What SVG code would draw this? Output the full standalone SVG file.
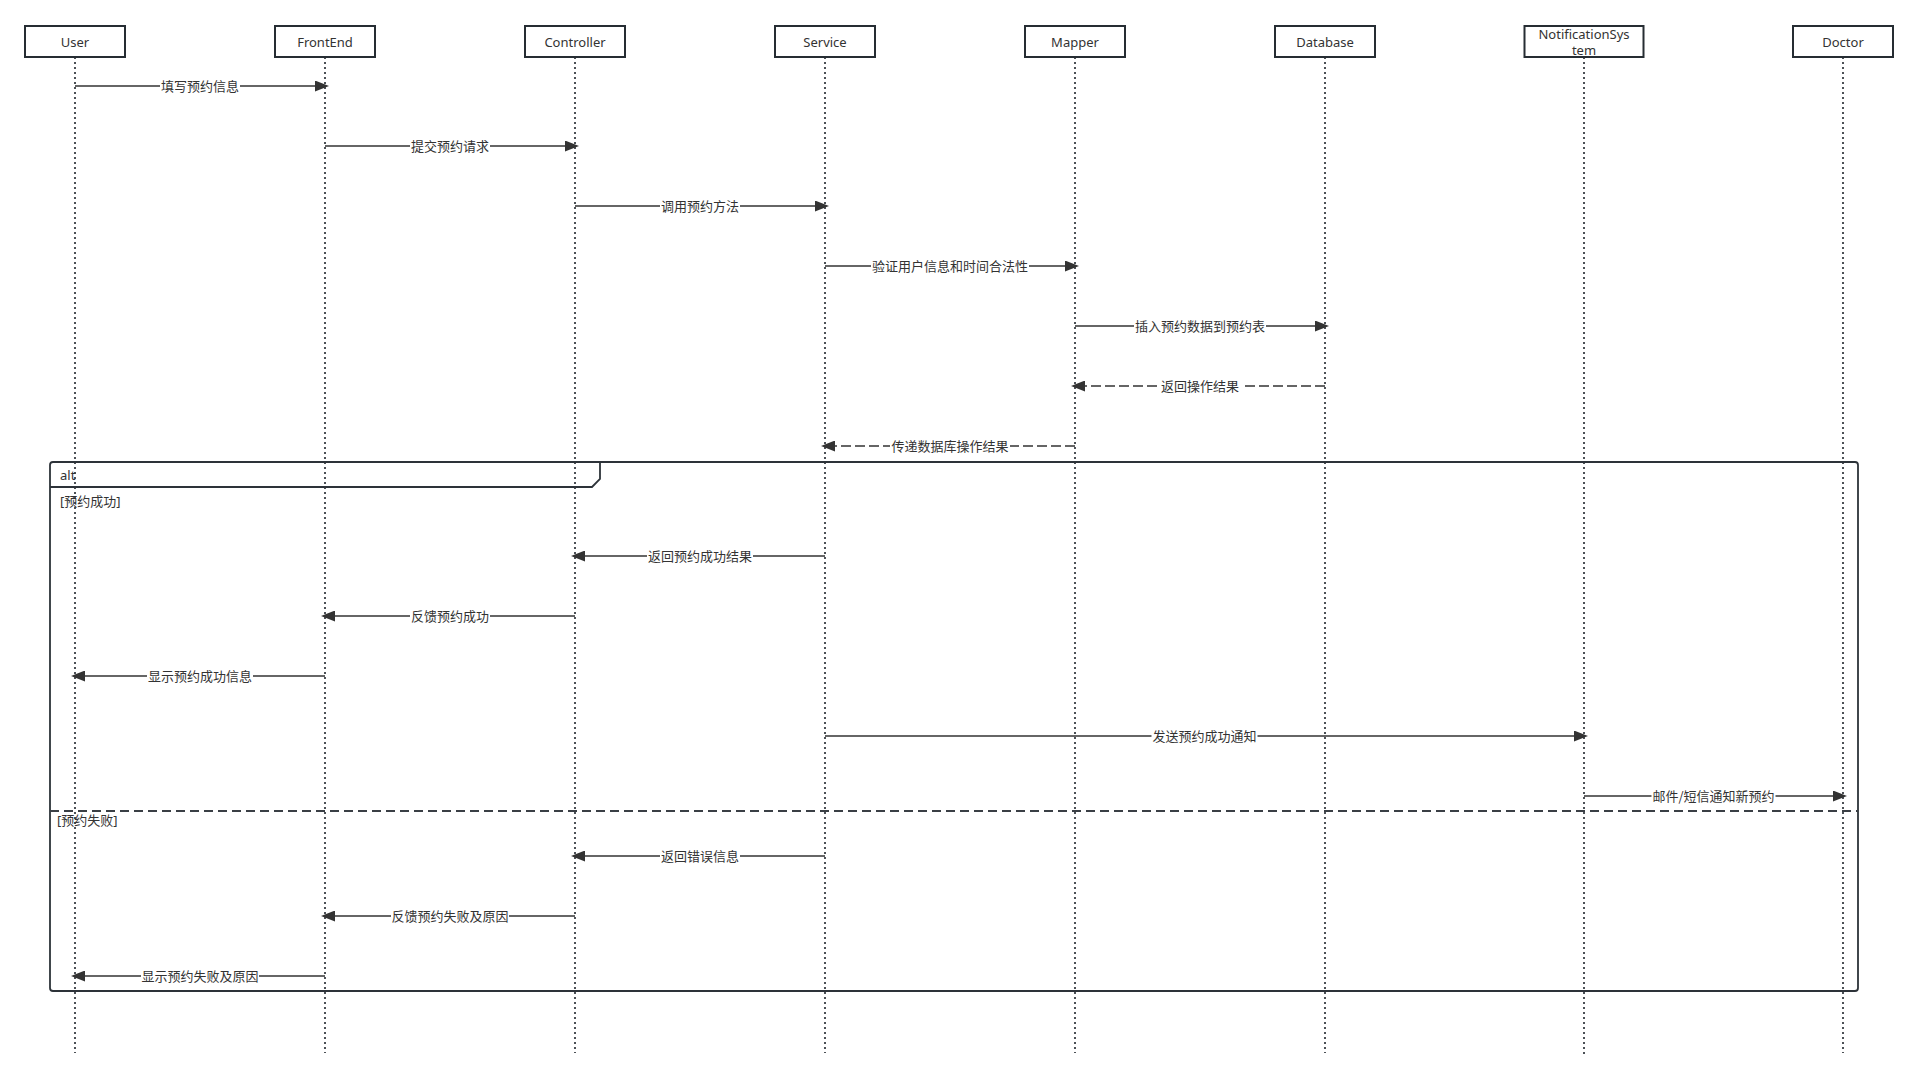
<svg xmlns="http://www.w3.org/2000/svg" width="1917" height="1081" viewBox="0 0 1917 1081">
<style>
.box{fill:#fff;stroke:#262d33;stroke-width:2}
.bt{font-family:"Noto Sans","Noto Sans CJK SC",sans-serif;font-size:13px;fill:#333;text-anchor:middle}
.life{stroke:#3a3f45;stroke-width:1.8;stroke-dasharray:2 3;fill:none}
.msg{stroke:#333;stroke-width:1.5;fill:none;marker-end:url(#arr)}
.ret{stroke:#333;stroke-width:1.5;fill:none;stroke-dasharray:10 4;marker-end:url(#arr)}
.lbg{fill:#fff}
.lt{font-family:"Noto Sans CJK SC","Noto Sans",sans-serif;font-size:13px;fill:#333;text-anchor:middle}
.ft{font-family:"Noto Sans","Noto Sans CJK SC",sans-serif;font-size:13px;fill:#333}
.frame{fill:none;stroke:#2d3339;stroke-width:1.8}
.div{stroke:#3a3f45;stroke-width:1.8;stroke-dasharray:9 5;fill:none}
</style>
<defs>
<marker id="arr" viewBox="0 0 14 11" refX="7" refY="5.5" markerWidth="14" markerHeight="11" markerUnits="userSpaceOnUse" orient="auto">
<path d="M0,0 L14,5.5 L0,11 z" fill="#333"/>
</marker>
</defs>
<rect width="1917" height="1081" fill="#fff"/>

<g id="lifelines">
<line class="life" x1="75" y1="57" x2="75" y2="1053"/>
<line class="life" x1="325" y1="57" x2="325" y2="1053"/>
<line class="life" x1="575" y1="57" x2="575" y2="1053"/>
<line class="life" x1="825" y1="57" x2="825" y2="1053"/>
<line class="life" x1="1075" y1="57" x2="1075" y2="1053"/>
<line class="life" x1="1325" y1="57" x2="1325" y2="1053"/>
<line class="life" x1="1584" y1="57" x2="1584" y2="1057"/>
<line class="life" x1="1843" y1="57" x2="1843" y2="1053"/>
</g>

<g id="user"><rect class="box" x="25" y="26" width="100" height="31"/><text class="bt" x="75" y="47">User</text></g>
<g id="frontend"><rect class="box" x="275" y="26" width="100" height="31"/><text class="bt" x="325" y="47">FrontEnd</text></g>
<g id="controller"><rect class="box" x="525" y="26" width="100" height="31"/><text class="bt" x="575" y="47">Controller</text></g>
<g id="service"><rect class="box" x="775" y="26" width="100" height="31"/><text class="bt" x="825" y="47">Service</text></g>
<g id="mapper"><rect class="box" x="1025" y="26" width="100" height="31"/><text class="bt" x="1075" y="47">Mapper</text></g>
<g id="database"><rect class="box" x="1275" y="26" width="100" height="31"/><text class="bt" x="1325" y="47">Database</text></g>
<g id="notificationsystem"><rect class="box" x="1524.5" y="26" width="119" height="31"/><text class="bt" x="1584" y="39">NotificationSys</text><text class="bt" x="1584" y="55">tem</text></g>
<g id="doctor"><rect class="box" x="1793" y="26" width="100" height="31"/><text class="bt" x="1843" y="47">Doctor</text></g>

<g id="alt-frame">
<rect class="frame" x="50" y="462" width="1808" height="529" rx="3"/>
<path class="frame" d="M50,487 L592,487 L600,479 L600,462"/>
<text class="ft" x="60" y="480">alt</text>
<text class="ft" x="60" y="506">[预约成功]</text>
<line class="div" x1="50" y1="811" x2="1858" y2="811"/>
<text class="ft" x="57" y="825">[预约失败]</text>
</g>

<g id="connectors">
<line class="msg" x1="75" y1="86" x2="322" y2="86"/>
<rect class="lbg" x="160" y="78" width="80" height="16"/><text class="lt" x="200" y="90.5">填写预约信息</text>

<line class="msg" x1="325" y1="146" x2="572" y2="146"/>
<rect class="lbg" x="410" y="138" width="80" height="16"/><text class="lt" x="450" y="150.5">提交预约请求</text>

<line class="msg" x1="575" y1="206" x2="822" y2="206"/>
<rect class="lbg" x="660" y="198" width="80" height="16"/><text class="lt" x="700" y="210.5">调用预约方法</text>

<line class="msg" x1="825" y1="266" x2="1072" y2="266"/>
<rect class="lbg" x="871" y="258" width="158" height="16"/><text class="lt" x="950" y="270.5">验证用户信息和时间合法性</text>

<line class="msg" x1="1075" y1="326" x2="1322" y2="326"/>
<rect class="lbg" x="1134" y="318" width="132" height="16"/><text class="lt" x="1200" y="330.5">插入预约数据到预约表</text>

<line class="ret" x1="1325" y1="386" x2="1078" y2="386"/>
<rect class="lbg" x="1157" y="378" width="86" height="16"/><text class="lt" x="1200" y="390.5">返回操作结果</text>

<line class="ret" x1="1075" y1="446" x2="828" y2="446"/>
<rect class="lbg" x="890" y="438" width="120" height="16"/><text class="lt" x="950" y="450.5">传递数据库操作结果</text>

<line class="msg" x1="825" y1="556" x2="578" y2="556"/>
<rect class="lbg" x="647" y="548" width="106" height="16"/><text class="lt" x="700" y="560.5">返回预约成功结果</text>

<line class="msg" x1="575" y1="616" x2="328" y2="616"/>
<rect class="lbg" x="410" y="608" width="80" height="16"/><text class="lt" x="450" y="620.5">反馈预约成功</text>

<line class="msg" x1="325" y1="676" x2="78" y2="676"/>
<rect class="lbg" x="147" y="668" width="106" height="16"/><text class="lt" x="200" y="680.5">显示预约成功信息</text>

<line class="msg" x1="825" y1="736" x2="1581" y2="736"/>
<rect class="lbg" x="1151.5" y="728" width="106" height="16"/><text class="lt" x="1204.5" y="740.5">发送预约成功通知</text>

<line class="msg" x1="1584" y1="796" x2="1840" y2="796"/>
<rect class="lbg" x="1651.5" y="788" width="124" height="16"/><text class="lt" x="1713.5" y="800.5">邮件/短信通知新预约</text>

<line class="msg" x1="825" y1="856" x2="578" y2="856"/>
<rect class="lbg" x="660" y="848" width="80" height="16"/><text class="lt" x="700" y="860.5">返回错误信息</text>

<line class="msg" x1="575" y1="916" x2="328" y2="916"/>
<rect class="lbg" x="391" y="908" width="118" height="16"/><text class="lt" x="450" y="920.5">反馈预约失败及原因</text>

<line class="msg" x1="325" y1="976" x2="78" y2="976"/>
<rect class="lbg" x="141" y="968" width="118" height="16"/><text class="lt" x="200" y="980.5">显示预约失败及原因</text>
</g>
</svg>
